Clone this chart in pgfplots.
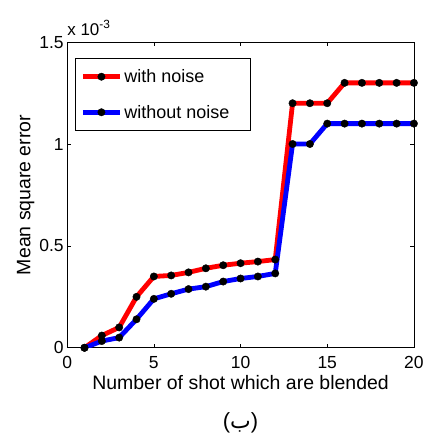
\documentclass[border=0pt]{standalone}
\usepackage{fontspec}
\setmainfont{Liberation Sans}
\newfontfamily\arabicfont[Script=Arabic]{DejaVu Sans}
\TeXXeTstate=1
\usepackage{pgfplots}
\pgfplotsset{compat=1.18}

\begin{document}
\begin{tikzpicture}
\begin{axis}[
    name=ax,
    width=346bp, height=305bp, scale only axis,
    xmin=0, xmax=20, ymin=0, ymax=0.0015,
    xtick={0,5,10,15,20},
    ytick={0,0.0005,0.001,0.0015},
    yticklabels={0,0.5,1,1.5},
    scaled y ticks=false,
    tick align=inside,
    major tick length=4bp,
    axis line style={line width=0.8bp},
    every tick/.style={black, line width=0.6bp},
    /pgf/number format/assume math mode=true,
    ticklabel style={font=\fontsize{17.5}{17.5}\selectfont},
    xticklabel style={yshift=-5bp},
    xlabel={Number of shot which are blended},
    ylabel={Mean square error},
    label style={font=\fontsize{19.5}{21}\selectfont},
    ylabel style={yshift=-2bp},
    legend style={at={(rel axis cs:0,1)}, anchor=north west,
        xshift=8bp, yshift=-16bp, draw=black, line width=0.6bp,
        font=\fontsize{18}{20}\selectfont, row sep=17bp,
        inner xsep=5bp, inner ysep=9bp},
    legend cell align=left,
    legend image code/.code={%
        \draw[#1, mark repeat=2, mark phase=2]
            plot coordinates {(0bp,0bp) (18.5bp,0bp) (37bp,0bp)};},
]

% with noise
\addplot[red, line width=4.8bp, mark=*, mark size=3.7bp,
    mark options={black, fill=black, line width=0.4bp}] coordinates {
    (1,0) (2,0.00006) (3,0.0001) (4,0.00025) (5,0.00035)
    (6,0.000355) (7,0.00037) (8,0.00039) (9,0.000405) (10,0.000415)
    (11,0.000423) (12,0.000433) (13,0.0012) (14,0.0012) (15,0.0012)
    (16,0.0013) (17,0.0013) (18,0.0013) (19,0.0013) (20,0.0013)
};

% without noise
\addplot[blue, line width=4.8bp, mark=*, mark size=3.7bp,
    mark options={black, fill=black, line width=0.4bp}] coordinates {
    (1,0) (2,0.000033) (3,0.00005) (4,0.00014) (5,0.00024)
    (6,0.000265) (7,0.000288) (8,0.0003) (9,0.000325) (10,0.00034)
    (11,0.00035) (12,0.000365) (13,0.001) (14,0.001) (15,0.0011)
    (16,0.0011) (17,0.0011) (18,0.0011) (19,0.0011) (20,0.0011)
};

\legend{with noise, without noise\hspace*{14bp}}
\end{axis}

\node[anchor=base west, inner sep=0pt, font=\fontsize{17}{17}\selectfont]
    at ([yshift=7bp]ax.north west) {x 10\textsuperscript{-3}};

\node[font=\fontsize{22}{24}\selectfont] at ([yshift=-75bp]ax.south)
    {(\beginR{\arabicfont ب}\endR)};

\pgfresetboundingbox
\path[use as bounding box] ([shift={(-67bp,-93bp)}]ax.south west)
    rectangle ([shift={(10bp,42bp)}]ax.north east);
\end{tikzpicture}
\end{document}
